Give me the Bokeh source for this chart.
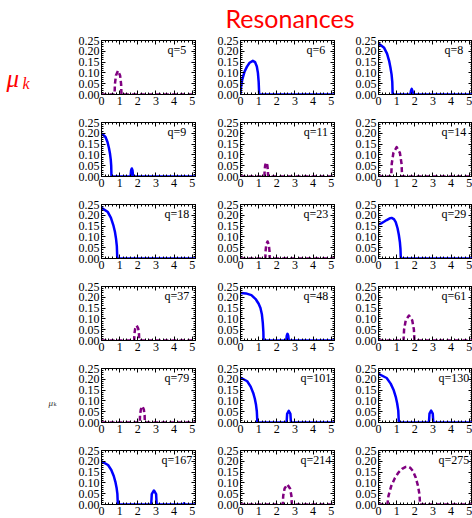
from bokeh.plotting import figure
from bokeh.layouts import gridplot, row, column
from bokeh.models import (Range1d, FixedTicker, NumeralTickFormatter, LinearAxis,
                          CustomJSTickFormatter, Label)
from bokeh.embed import file_html
from bokeh.resources import INLINE

# ---------------- data ----------------
q_labels = ["q=5", "q=6", "q=8", "q=9", "q=11", "q=14", "q=18", "q=23", "q=29",
            "q=37", "q=48", "q=61", "q=79", "q=101", "q=130", "q=167", "q=214", "q=275"]
# "solid" = blue curve, "dashed" = purple curve
kinds = ["dashed", "solid", "solid", "solid", "dashed", "dashed", "solid", "dashed", "solid",
         "dashed", "solid", "dashed", "dashed", "solid", "solid", "solid", "dashed", "dashed"]

q5_x = [0, 0.72, 0.739, 0.796, 0.91, 1.024, 1.081, 1.1, 5.2]
q5_y = [0, 0, 0.048, 0.088, 0.11, 0.088, 0.048, 0, 0]

q6_x = [0, 0.03, 0.1, 0.22, 0.35, 0.5, 0.68, 0.8, 0.9, 0.96, 1.0, 1.03, 5.2]
q6_y = [0, 0.035, 0.07, 0.105, 0.128, 0.147, 0.156, 0.15, 0.13, 0.1, 0.06, 0, 0]

q8_x = [0, 0.31, 0.47, 0.585, 0.66, 0.72, 0.76, 0.78, 1.76, 1.79, 1.83, 1.87, 1.9, 5.2]
q8_y = [0.236, 0.216, 0.189, 0.156, 0.124, 0.093, 0.057, 0, 0, 0.018, 0.026, 0.018, 0, 0]

q9_x = [0, 0.22, 0.33, 0.41, 0.47, 0.51, 0.535, 0.55, 1.6, 1.63, 1.67, 1.71, 1.74, 5.2]
q9_y = [0.2, 0.183, 0.16, 0.132, 0.105, 0.078, 0.049, 0, 0, 0.028, 0.037, 0.028, 0, 0]

q11_x = [0, 1.32, 1.33, 1.36, 1.42, 1.48, 1.51, 1.52, 5.2]
q11_y = [0, 0, 0.028, 0.052, 0.065, 0.052, 0.028, 0, 0]

q14_x = [0, 0.7, 0.73, 0.82, 1.0, 1.18, 1.27, 1.3, 5.2]
q14_y = [0, 0, 0.059, 0.109, 0.136, 0.109, 0.059, 0, 0]

q18_x = [0, 0.35, 0.52, 0.65, 0.74, 0.8, 0.845, 0.87, 5.2]
q18_y = [0.235, 0.215, 0.188, 0.155, 0.124, 0.092, 0.057, 0, 0]

q23_x = [0, 1.37, 1.382, 1.418, 1.49, 1.562, 1.598, 1.61, 5.2]
q23_y = [0, 0, 0.034, 0.063, 0.079, 0.063, 0.034, 0, 0]

q29_x = [0, 0.15, 0.3, 0.45, 0.6, 0.72, 0.85, 0.95, 1.05, 1.12, 1.18, 1.21, 1.23, 5.2]
q29_y = [0.158, 0.163, 0.17, 0.178, 0.185, 0.188, 0.182, 0.168, 0.14, 0.11, 0.075, 0.045, 0, 0]

q37_x = [0, 1.8, 1.814, 1.856, 1.94, 2.024, 2.066, 2.08, 3.2, 3.27, 3.34, 5.2]
q37_y = [0, 0, 0.03, 0.055, 0.069, 0.055, 0.03, 0, 0, 0.004, 0, 0]

q48_x = [0, 0.3, 0.6, 0.85, 1.0, 1.1, 1.18, 1.23, 1.26, 1.27, 2.52, 2.55, 2.59, 2.63, 2.66, 5.2]
q48_y = [0.22, 0.218, 0.21, 0.19, 0.17, 0.15, 0.12, 0.08, 0.04, 0, 0, 0.022, 0.031, 0.022, 0, 0]

q61_x = [0, 1.38, 1.41, 1.5, 1.68, 1.86, 1.95, 1.98, 3.2, 3.27, 3.34, 5.2]
q61_y = [0, 0, 0.051, 0.093, 0.116, 0.093, 0.051, 0, 0, 0.01, 0, 0]

q79_x = [0, 2.11, 2.124, 2.166, 2.25, 2.334, 2.376, 2.39, 5.2]
q79_y = [0, 0, 0.033, 0.06, 0.075, 0.06, 0.033, 0, 0]

q101_x = [0, 0.37, 0.56, 0.7, 0.79, 0.855, 0.9, 0.93, 2.54, 2.57, 2.66, 2.75, 2.78, 5.2]
q101_y = [0.208, 0.191, 0.166, 0.137, 0.11, 0.082, 0.051, 0, 0, 0.04, 0.054, 0.04, 0, 0]

q130_x = [0, 0.45, 0.67, 0.84, 0.95, 1.03, 1.09, 1.12, 2.78, 2.81, 2.9, 2.99, 3.02, 5.2]
q130_y = [0.225, 0.206, 0.18, 0.149, 0.119, 0.088, 0.055, 0, 0, 0.041, 0.055, 0.041, 0, 0]

q167_x = [0, 0.36, 0.54, 0.675, 0.765, 0.83, 0.875, 0.9, 2.74, 2.77, 2.89, 3.01, 3.04,
          4.5, 4.55, 4.6, 5.2]
q167_y = [0.2, 0.183, 0.16, 0.132, 0.105, 0.078, 0.049, 0, 0, 0.048, 0.065, 0.048, 0,
          0, 0.006, 0, 0]

q214_x = [0, 2.33, 2.355, 2.43, 2.58, 2.73, 2.805, 2.83, 5.2]
q214_y = [0, 0, 0.041, 0.074, 0.093, 0.074, 0.041, 0, 0]

q275_x = [0, 0.49, 0.55, 0.7, 0.9, 1.1, 1.3, 1.5, 1.6, 1.75, 1.9, 2.05, 2.18, 2.26, 2.29, 5.2]
q275_y = [0, 0, 0.04, 0.085, 0.122, 0.148, 0.165, 0.174, 0.175, 0.17, 0.155, 0.125, 0.085,
          0.045, 0, 0]

x_ticks = [0, 1, 2, 3, 4, 5]
y_ticks = [0.0, 0.05, 0.10, 0.15, 0.20, 0.25]

panels_x = [q5_x, q6_x, q8_x, q9_x, q11_x, q14_x, q18_x, q23_x, q29_x,
            q37_x, q48_x, q61_x, q79_x, q101_x, q130_x, q167_x, q214_x, q275_x]
panels_y = [q5_y, q6_y, q8_y, q9_y, q11_y, q14_y, q18_y, q23_y, q29_y,
            q37_y, q48_y, q61_y, q79_y, q101_y, q130_y, q167_y, q214_y, q275_y]

# ---------------- styling ----------------
BLUE = "#0000ff"
PURPLE = "#800080"
RED = "#ff0000"
SERIF = "Liberation Serif"
TICK_COLOR = "#000000"

x_minor = [i * 0.2 for i in range(0, 27)]
y_minor = [i * 0.01 for i in range(0, 26)]

COL_W = [139, 138, 134]
COL_RB = [5, 4, 0]


def style_axis(ax, labelled):
    ax.axis_line_color = "black"
    ax.axis_line_width = 1
    ax.major_tick_line_color = "black"
    ax.minor_tick_line_color = "black"
    ax.major_tick_in = 4
    ax.major_tick_out = 0
    ax.minor_tick_in = 2
    ax.minor_tick_out = 0
    ax.major_label_text_font = SERIF
    ax.major_label_text_font_size = "12px"
    ax.major_label_text_color = TICK_COLOR
    if not labelled:
        ax.formatter = CustomJSTickFormatter(code="return ''")
        ax.major_label_standoff = 0


def make_panel(i):
    col = i % 3
    last_row = i >= 15
    p = figure(width=COL_W[col], height=73 if last_row else 82,
               x_range=Range1d(0, 5.18), y_range=Range1d(0, 0.25),
               x_axis_type=None, y_axis_type=None, title_location=None,
               min_border_left=40, min_border_right=COL_RB[col],
               min_border_top=5, min_border_bottom=14 if last_row else 23,
               toolbar_location=None, output_backend="svg")
    p.outline_line_color = "black"
    p.outline_line_width = 1
    p.background_fill_color = "white"
    p.border_fill_color = "white"

    xt = FixedTicker(ticks=x_ticks, minor_ticks=x_minor)
    yt = FixedTicker(ticks=y_ticks, minor_ticks=y_minor)

    bottom = LinearAxis(ticker=xt)
    style_axis(bottom, True)
    bottom.major_label_standoff = 2
    top = LinearAxis(ticker=xt)
    style_axis(top, False)
    left = LinearAxis(ticker=yt, formatter=NumeralTickFormatter(format="0.00"))
    style_axis(left, True)
    left.major_label_standoff = 2
    right = LinearAxis(ticker=yt)
    style_axis(right, False)
    p.add_layout(bottom, "below")
    p.add_layout(top, "above")
    p.add_layout(left, "left")
    p.add_layout(right, "right")

    solid = kinds[i] == "solid"
    p.line(panels_x[i], panels_y[i],
           line_color=BLUE if solid else PURPLE, line_width=2.5,
           line_dash="solid" if solid else "5 3",
           line_join="round", line_cap="butt")

    p.add_layout(Label(x=4.15, y=0.205, text=q_labels[i], text_align="center",
                       text_baseline="middle", text_font=SERIF,
                       text_font_size="12px", text_color=TICK_COLOR))
    return p


panels = [make_panel(i) for i in range(18)]
grid = gridplot([panels[r * 3:(r + 1) * 3] for r in range(6)], toolbar_location=None)

# title strip
title_fig = figure(width=472, height=35, x_range=Range1d(0, 472), y_range=Range1d(35, 0),
                   x_axis_type=None, y_axis_type=None, min_border=0, title_location=None,
                   toolbar_location=None, output_backend="svg")
title_fig.outline_line_color = None
title_fig.add_layout(Label(x=289.5, y=17, text="Resonances", text_align="center",
                           text_baseline="middle", text_font="Lato",
                           text_font_size="25px", text_color=RED))

# left strip with the mu_k labels
left_fig = figure(width=61, height=483, x_range=Range1d(0, 61), y_range=Range1d(483, 0),
                  x_axis_type=None, y_axis_type=None, min_border=0, title_location=None,
                  toolbar_location=None, output_backend="svg")
left_fig.outline_line_color = None
left_fig.add_layout(Label(x=6, y=43, text="μ", text_align="left", text_baseline="alphabetic",
                          text_font=SERIF, text_font_style="italic",
                          text_font_size="25px", text_color=RED))
left_fig.add_layout(Label(x=22, y=48, text="k", text_align="left", text_baseline="alphabetic",
                          text_font=SERIF, text_font_style="italic",
                          text_font_size="16px", text_color=RED))
left_fig.add_layout(Label(x=48, y=367, text="μ", text_align="left", text_baseline="alphabetic",
                          text_font=SERIF, text_font_style="italic",
                          text_font_size="9px", text_color="#333333"))
left_fig.add_layout(Label(x=53, y=368, text="k", text_align="left", text_baseline="alphabetic",
                          text_font=SERIF, text_font_size="6px", text_color="#333333"))

layout = column(title_fig, row(left_fig, grid))

open("out.html", "w").write(file_html(layout, INLINE))
